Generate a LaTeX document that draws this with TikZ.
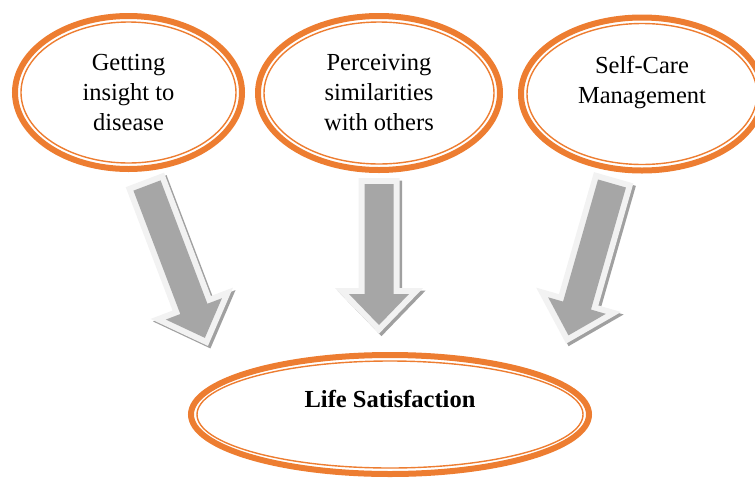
\documentclass[tikz,border=0pt]{standalone}
\usepackage{fontspec}
\setmainfont{Liberation Serif}
\usepackage{tikz}
\usetikzlibrary{shapes.geometric}

\definecolor{accent}{HTML}{ED7D31}
\definecolor{shaftgray}{HTML}{A6A6A6}
\definecolor{rimgray}{HTML}{F2F2F2}
\definecolor{shadegray}{HTML}{A0A0A0}

\tikzset{
  bubble/.style={ellipse, draw=accent, line width=6pt, inner sep=0pt,
    align=center, font=\fontsize{24.5}{30}\selectfont},
  ring/.style={draw=accent, line width=1.4pt},
  arrowbody/.style={fill=shaftgray,
    preaction={draw=rimgray, line width=12pt, line join=miter}},
  arrowshade/.style={fill=shadegray, draw=shadegray, line width=12pt, line join=miter}
}

% block arrow: tail point, direction, length
\newcommand\blockarrow[3]{%
  \begin{scope}[shift={(#1)}, xshift=2.5pt, yshift=-2.5pt, rotate=#2]
    \filldraw[arrowshade] (0,-14.5) -- ({#3-31},-14.5) -- ({#3-31},-30) -- (#3,0)
      -- ({#3-31},30) -- ({#3-31},14.5) -- (0,14.5) -- cycle;
  \end{scope}
  \begin{scope}[shift={(#1)}, rotate=#2]
    \path[arrowbody] (0,-14.5) -- ({#3-31},-14.5) -- ({#3-31},-30) -- (#3,0)
      -- ({#3-31},30) -- ({#3-31},14.5) -- (0,14.5) -- cycle;
  \end{scope}}

\begin{document}
\begin{tikzpicture}[x=1pt, y=-1pt]
  \useasboundingbox (0,0) rectangle (755,480);
  \clip (0,0) rectangle (755,480);

  % the three factors
  \node (insight) [bubble, minimum width=227pt, minimum height=153pt] at (128.5,92.5)
    {Getting\\insight to\\disease};
  \node (similar) [bubble, minimum width=242pt, minimum height=154pt] at (379,93)
    {Perceiving\\similarities\\with others};
  \node (care) [bubble, minimum width=242pt, minimum height=153pt,
    label={[align=center, font=\fontsize{24.5}{30}\selectfont, yshift=11pt]center:Self-Care\\Management}]
    at (642,94) {};
  \draw[ring] (insight.center) ellipse [x radius=107.5pt, y radius=70.5pt];
  \draw[ring] (similar.center) ellipse [x radius=115pt, y radius=71pt];
  \draw[ring] (care.center) ellipse [x radius=115pt, y radius=70.5pt];

  % outcome
  \node (life) [bubble, minimum width=398pt, minimum height=119pt,
    label={[font=\fontsize{24.5}{30}\selectfont\bfseries, yshift=16pt]center:Life Satisfaction}]
    at (390,414.5) {};
  \draw[ring] (life.center) ellipse [x radius=193pt, y radius=53.5pt];

  % arrows down to the outcome
  \coordinate (t1) at (147,185.5);
  \coordinate (t2) at (379,184);
  \coordinate (t3) at (612,183.5);
  \blockarrow{t1}{-69.2}{163}
  \blockarrow{t2}{-90}{141}
  \blockarrow{t3}{-106}{158}
\end{tikzpicture}
\end{document}
